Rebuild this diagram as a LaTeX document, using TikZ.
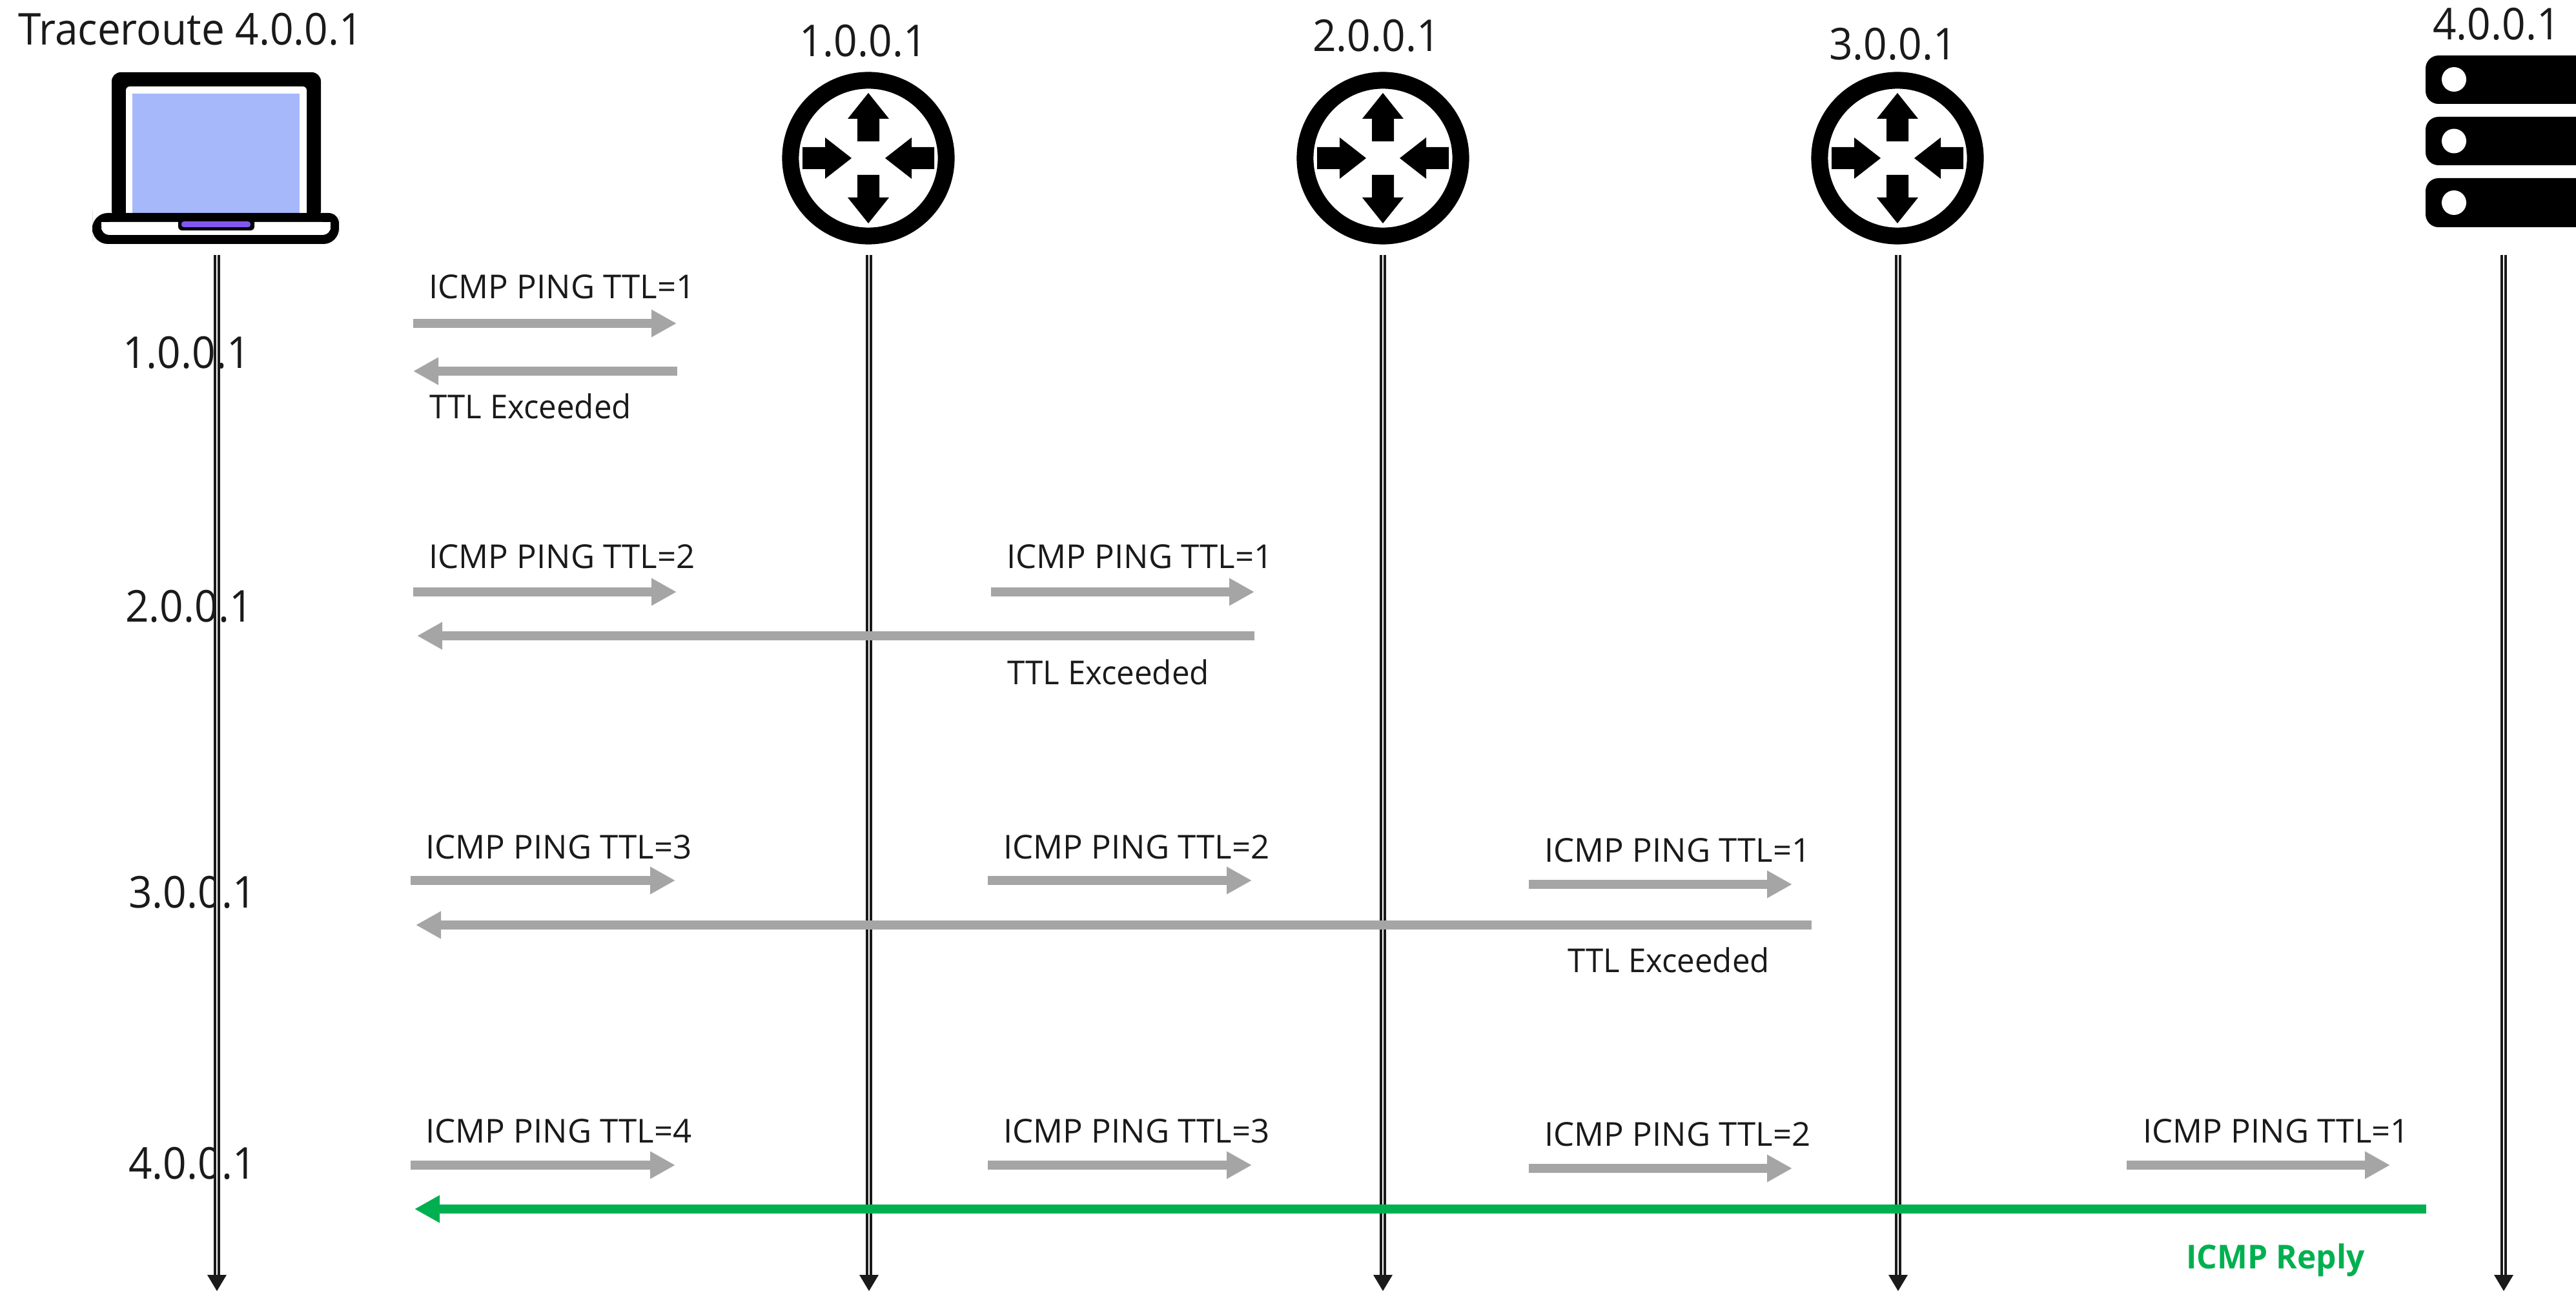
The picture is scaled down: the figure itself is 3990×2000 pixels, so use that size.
\documentclass[tikz,border=0pt]{standalone}
\usepackage{fontspec}
\setmainfont{Open Sans}
\newfontfamily\bigfont[FakeStretch=0.94]{Open Sans}
\newfontfamily\pingfont{Open Sans}
\newfontfamily\ttlfont[FakeStretch=0.965]{Open Sans}
\newfontfamily\replyfont[FakeStretch=0.975]{Open Sans}
\usetikzlibrary{arrows.meta}
\definecolor{ink}{HTML}{1A1A1A}
\definecolor{arrowgray}{HTML}{A5A5A5}
\definecolor{replygreen}{HTML}{00B050}
\definecolor{screenblue}{HTML}{A6B8FA}
\definecolor{padpurple}{HTML}{8257F0}
\tikzset{
  x=0.5pt,y=-0.5pt,
  biglabel/.style={inner sep=0pt,anchor=base,text=ink,font=\bigfont\fontsize{34}{40}\selectfont},
  smalllabel/.style={inner sep=0pt,anchor=base west,text=ink,font=\pingfont\fontsize{25.5}{32}\selectfont},
  ttllabel/.style={inner sep=0pt,anchor=base west,text=ink,font=\ttlfont\fontsize{25.5}{32}\selectfont},
  replylabel/.style={inner sep=0pt,anchor=base west,text=replygreen,font=\replyfont\fontsize{25.5}{32}\selectfont\bfseries},
  lifeline/.style={draw=ink,line width=1.8pt,double=white,double distance=1.4pt},
  lifehead/.style={fill=ink,draw=none},
  pingarrow/.style={draw=arrowgray,line width=6.8pt,-{Triangle[length=19.5pt,width=20pt,color=arrowgray,sep=0pt]}},
  replyarrow/.style={draw=replygreen,line width=6.8pt,-{Triangle[length=19.5pt,width=20pt,color=replygreen,sep=0pt]}},
}
\newcommand{\routericon}[1]{%
  \begin{scope}[shift={(#1,245)}]
    \fill[black,even odd rule] (0,0) circle[radius=66.8pt] (0,0) circle[radius=53.8pt];
    % inward horizontal arrows
    \foreach \a in {0,180}{
      \begin{scope}[rotate=\a]
        \fill[black] (-102,-17)--(-67,-17)--(-67,-32)--(-26,0)--(-67,32)--(-67,17)--(-102,17)--cycle;
      \end{scope}}
    % outward vertical arrows
    \foreach \a in {0,180}{
      \begin{scope}[rotate=\a]
        \fill[black] (-17,26)--(-17,61)--(-32,61)--(0,101)--(32,61)--(17,61)--(17,26)--cycle;
      \end{scope}}
  \end{scope}}
\begin{document}
\begin{tikzpicture}
\useasboundingbox (0,0) rectangle (3990,2000);
\fill[white] (0,0) rectangle (3990,2000);
% row labels
\node[biglabel] (l1) at (289,571) {1.0.0.1};
\node[biglabel] (l2) at (293,963) {2.0.0.1};
\node[biglabel] (l3) at (298,1406) {3.0.0.1};
\node[biglabel] (l4) at (298,1826) {4.0.0.1};
% lifelines
\foreach \n/\xx in {h/336,ra/1346,rb/2142,rc/2940,s/3878}{
  \coordinate (\n top) at (\xx,395);
  \coordinate (\n bot) at (\xx,1976);
  \draw[lifeline] (\n top) -- (\n bot);
  \fill[lifehead] (\xx-15,1975) -- (\xx+15,1975) -- (\xx,2000) -- cycle;
}
% titles
\node[biglabel] (t0) at (295,70) {Traceroute 4.0.0.1};
\node[biglabel] (t1) at (1337,88) {1.0.0.1};
\node[biglabel] (t2) at (2132,80) {2.0.0.1};
\node[biglabel] (t3) at (2932,93) {3.0.0.1};
\node[biglabel] (t4) at (3867,62) {4.0.0.1};
% laptop
\fill[black,rounded corners=7pt] (173,340) -- (173,112) -- (497,112) -- (497,340) -- cycle;
\fill[white,rounded corners=3pt] (195,340) -- (195,134) -- (475,134) -- (475,340) -- cycle;
\fill[screenblue] (205,145) rectangle (464,331);
\fill[black,rounded corners=8pt] (143,330) -- (525,330) -- (525,350) [rounded corners=12pt] -- (525,378) -- (143,378) -- (143,350) -- cycle;
\fill[white,rounded corners=6pt] (157,344) -- (512,344) -- (512,364) -- (157,364) -- cycle;
\fill[white] (157,344) rectangle (512,352);
\fill[black,rounded corners=3pt] (276,335) rectangle (394,357);
\fill[padpurple,rounded corners=2pt] (281,343) rectangle (388,352);
% routers
\routericon{1345}
\routericon{2142}
\routericon{2939}
% server
\foreach \yy/\hh/\cc in {86/161/123,181/256/218.5,276/352/314}{
  \fill[black,rounded corners=10pt] (3757,\yy) rectangle (4050,\hh);
  \fill[white] (3801,\cc) circle[radius=9.5pt];
}
% arrows and their end points
\foreach \n/\xa/\xb/\yy in {
  a1/640/1048/501,
  b1/640/1048/917, b2/1535/1943/917,
  c1/636/1046/1364, c2/1530/1939/1364, c3/2368/2776/1370,
  d1/636/1046/1805, d2/1530/1939/1805, d3/2368/2776/1810, d4/3294/3702/1805}{
  \coordinate (\n s) at (\xa,\yy);
  \coordinate (\n e) at (\xb,\yy);
  \draw[pingarrow] (\n s) -- (\n e);
}
\foreach \n/\xa/\xb/\yy in {a9/1049/640/575, b9/1943/646/985, c9/2806/644/1433}{
  \coordinate (\n s) at (\xa,\yy);
  \coordinate (\n e) at (\xb,\yy);
  \draw[pingarrow] (\n s) -- (\n e);
}
\coordinate (d9s) at (3758,1873);
\coordinate (d9e) at (642,1873);
\draw[replyarrow] (d9s) -- (d9e);
% arrow labels
\node[smalllabel] (ta1) at (664,463) {ICMP PING TTL=1};
\node[ttllabel] (ta9) at (665,649) {TTL Exceeded};
\node[smalllabel] (tb1) at (664,880) {ICMP PING TTL=2};
\node[smalllabel] (tb2) at (1559,880) {ICMP PING TTL=1};
\node[ttllabel] (tb9) at (1560,1060) {TTL Exceeded};
\node[smalllabel] (tc1) at (659,1330) {ICMP PING TTL=3};
\node[smalllabel] (tc2) at (1554,1330) {ICMP PING TTL=2};
\node[smalllabel] (tc3) at (2392,1335) {ICMP PING TTL=1};
\node[ttllabel] (tc9) at (2428,1506) {TTL Exceeded};
\node[smalllabel] (td1) at (659,1770) {ICMP PING TTL=4};
\node[smalllabel] (td2) at (1554,1770) {ICMP PING TTL=3};
\node[smalllabel] (td3) at (2392,1775) {ICMP PING TTL=2};
\node[smalllabel] (td4) at (3319,1770) {ICMP PING TTL=1};
\node[replylabel] (td9) at (3386,1965) {ICMP Reply};
\end{tikzpicture}
\end{document}
